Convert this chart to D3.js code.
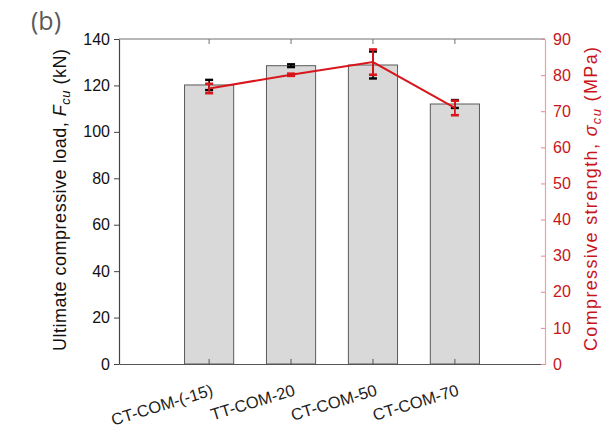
<!DOCTYPE html>
<html>
<head>
<meta charset="utf-8">
<script src="https://cdn.jsdelivr.net/npm/d3@7"></script>
<style>
  html, body { margin: 0; padding: 0; background: #fff; }
  svg { display: block; font-family: "Liberation Sans", Arial, sans-serif; }
</style>
</head>
<body>
<svg id="chart" width="616" height="427"></svg>
<script>
// Specimen groups
const categories = ["CT-COM-(-15)", "TT-COM-20", "CT-COM-50", "CT-COM-70"];
// Ultimate compressive load F_cu (kN) and its scatter
const loadValues = [120.2, 128.5, 128.8, 112.0];
const loadErrors = [2.2, 0.6, 5.8, 1.7];
// Compressive strength sigma_cu (MPa) and its scatter
const strengthValues = [76.3, 80.1, 83.6, 70.9];
const strengthErrors = [1.3, 0.3, 3.5, 2.0];
// Axis ticks
const leftTicks = [0, 20, 40, 60, 80, 100, 120, 140];
const rightTicks = [0, 10, 20, 30, 40, 50, 60, 70, 80, 90];

const svg = d3.select("#chart");
const plot = { left: 119, right: 545, top: 39, bottom: 364 };
const red = "#d9161c";
const redText = "#c8151b";

const x = d3.scaleBand()
  .domain(categories)
  .range([plot.left, plot.right])
  .paddingInner(0.4)
  .paddingOuter(0.8);
const yL = d3.scaleLinear().domain([0, 140]).range([plot.bottom, plot.top]);
const yR = d3.scaleLinear().domain([0, 90]).range([plot.bottom, plot.top]);
const cx = d => x(d) + x.bandwidth() / 2;

// Bars
svg.append("g").selectAll("rect")
  .data(categories)
  .join("rect")
  .attr("x", d => x(d))
  .attr("width", x.bandwidth())
  .attr("y", (d, i) => yL(loadValues[i]))
  .attr("height", (d, i) => plot.bottom - yL(loadValues[i]))
  .attr("fill", "#d9d9d9")
  .attr("stroke", "#5a5a5a")
  .attr("stroke-width", 1);

// Frame: top border
svg.append("line")
  .attr("x1", plot.left).attr("x2", plot.right)
  .attr("y1", plot.top).attr("y2", plot.top)
  .attr("stroke", "#707070").attr("stroke-width", 1);

// Bottom axis
const xAxis = svg.append("g")
  .attr("transform", `translate(0,${plot.bottom})`)
  .call(d3.axisBottom(x).tickSize(-5).tickSizeOuter(0).tickFormat(""));
xAxis.select(".domain").attr("stroke", "#555").attr("stroke-width", 1.2);
xAxis.selectAll(".tick line").attr("stroke", "#555");

// Top ticks
const topAxis = svg.append("g")
  .attr("transform", `translate(0,${plot.top})`)
  .call(d3.axisTop(x).tickSize(-5).tickSizeOuter(0).tickFormat(""));
topAxis.select(".domain").remove();
topAxis.selectAll(".tick line").attr("stroke", "#707070");

// Rotated category labels
svg.append("g").selectAll("text")
  .data(categories)
  .join("text")
  .attr("transform", d => `translate(${cx(d) + 5},${plot.bottom + 31}) rotate(-17)`)
  .attr("text-anchor", "end")
  .attr("font-size", 16.5)
  .attr("fill", "#222")
  .text(d => d);

// Left axis
const leftAxis = svg.append("g")
  .attr("transform", `translate(${plot.left},0)`)
  .call(d3.axisLeft(yL).tickValues(leftTicks).tickSize(5).tickSizeOuter(0).tickPadding(4));
leftAxis.select(".domain").attr("stroke", "#444").attr("stroke-width", 1.2);
leftAxis.selectAll(".tick line").attr("stroke", "#444");
leftAxis.selectAll(".tick text")
  .attr("font-size", 16).attr("fill", "#111")
  .attr("font-family", "Liberation Sans, Arial, sans-serif");

// Right axis
const rightAxis = svg.append("g")
  .attr("transform", `translate(${plot.right},0)`)
  .call(d3.axisRight(yR).tickValues(rightTicks).tickSize(-4).tickSizeOuter(0).tickPadding(8));
rightAxis.select(".domain").attr("stroke", "#f0a0a0").attr("stroke-width", 1.2);
rightAxis.selectAll(".tick line").attr("stroke", "#e58a8a");
rightAxis.selectAll(".tick text")
  .attr("font-size", 16).attr("fill", redText)
  .attr("font-family", "Liberation Sans, Arial, sans-serif");

// Black error bars on load
const capW = 4;
const eb = svg.append("g").attr("stroke", "#000").attr("stroke-width", 1.6);
categories.forEach((c, i) => {
  const xc = cx(c);
  const y1 = yL(loadValues[i] + loadErrors[i]);
  const y2 = yL(loadValues[i] - loadErrors[i]);
  eb.append("line").attr("x1", xc).attr("x2", xc).attr("y1", y1).attr("y2", y2);
  eb.append("line").attr("x1", xc - capW).attr("x2", xc + capW).attr("y1", y1).attr("y2", y1).attr("stroke-width", 2.4);
  eb.append("line").attr("x1", xc - capW).attr("x2", xc + capW).attr("y1", y2).attr("y2", y2).attr("stroke-width", 2.4);
});

// Strength line
const line = d3.line()
  .x((d, i) => cx(categories[i]))
  .y(d => yR(d));
svg.append("path")
  .datum(strengthValues)
  .attr("d", line)
  .attr("fill", "none")
  .attr("stroke", red)
  .attr("stroke-width", 2);

// Red error bars on strength
const rb = svg.append("g").attr("stroke", red).attr("stroke-width", 1.8);
categories.forEach((c, i) => {
  const xc = cx(c);
  const y1 = yR(strengthValues[i] + strengthErrors[i]);
  const y2 = yR(strengthValues[i] - strengthErrors[i]);
  rb.append("line").attr("x1", xc).attr("x2", xc).attr("y1", y1).attr("y2", y2);
  rb.append("line").attr("x1", xc - capW).attr("x2", xc + capW).attr("y1", y1).attr("y2", y1).attr("stroke-width", 2.6);
  rb.append("line").attr("x1", xc - capW).attr("x2", xc + capW).attr("y1", y2).attr("y2", y2).attr("stroke-width", 2.6);
});

// Left axis title
const lt = svg.append("text")
  .attr("transform", "translate(66,200) rotate(-90)")
  .attr("text-anchor", "middle")
  .attr("font-size", 18)
  .attr("textLength", 302)
  .attr("lengthAdjust", "spacing")
  .attr("fill", "#111");
lt.append("tspan").text("Ultimate compressive load, ");
lt.append("tspan").attr("font-style", "italic").text("F");
lt.append("tspan").attr("font-style", "italic").attr("font-size", 13).attr("dy", 4).text("cu");
lt.append("tspan").attr("dy", -4).text(" (kN)");

// Right axis title
const rt = svg.append("text")
  .attr("transform", "translate(597,199) rotate(-90)")
  .attr("text-anchor", "middle")
  .attr("font-size", 18)
  .attr("textLength", 304)
  .attr("lengthAdjust", "spacing")
  .attr("fill", redText);
rt.append("tspan").text("Compressive strength, ");
rt.append("tspan").attr("font-style", "italic").text("σ");
rt.append("tspan").attr("font-style", "italic").attr("font-size", 13).attr("dy", 4).text("cu");
rt.append("tspan").attr("dy", -4).text(" (MPa)");

// Panel label
svg.append("text")
  .attr("x", 31).attr("y", 30)
  .attr("font-size", 25)
  .attr("font-family", "Open Sans, sans-serif")
  .attr("fill", "#595959")
  .text("(b)");
</script>
</body>
</html>
